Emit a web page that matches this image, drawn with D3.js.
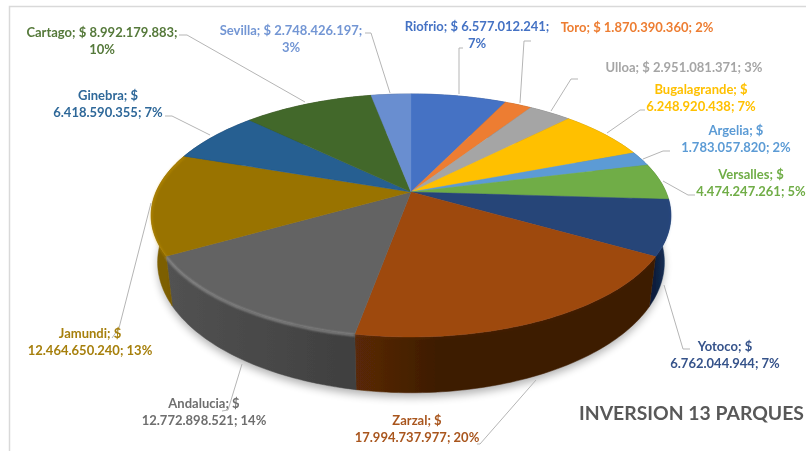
<!DOCTYPE html>
<html>
<head>
<meta charset="utf-8">
<script src="https://cdn.jsdelivr.net/npm/d3@7"></script>
<style>
  body { margin: 0; background: #fff; overflow: hidden; }
  svg { display: block; }
  text { font-family: Lato, "Open Sans", sans-serif; font-weight: 700; }
</style>
</head>
<body>
<div id="chart"></div>
<script>
// data
var names = ["Riofrio", "Toro", "Ulloa", "Bugalagrande", "Argelia", "Versalles", "Yotoco",
             "Zarzal", "Andalucia", "Jamundi", "Ginebra", "Cartago", "Sevilla"];
var values = [6577012241, 1870390360, 2951081371, 6248920438, 1783057820, 4474247261, 6762044944,
              17994737977, 12772898521, 12464650240, 6418590355, 8992179883, 2748426197];
var colors = ["#4472c4", "#ed7d31", "#a5a5a5", "#ffc000", "#5b9bd5", "#70ad47", "#264478",
              "#9e480e", "#636363", "#997300", "#255e91", "#43682b", "#698ed0"];
var sideFrom = ["#2f4f88", "#a5571f", "#737373", "#b28600", "#3f6c95", "#4e7931", "#1c3660",
                "#3d1c03", "#3f3f3f", "#7d5e00", "#1a4165", "#2e481d", "#49638f"];
var sideTo = ["#2f4f88", "#a5571f", "#737373", "#b28600", "#3f6c95", "#4e7931", "#0c1f3d",
              "#5a2907", "#525252", "#6f5400", "#1a4165", "#2e481d", "#49638f"];
// how far along the wall the first colour holds
var sideHold = [0, 0, 0, 0, 0, 0, 0, 0.72, 0, 0, 0, 0, 0];
var rimLight = [0, 0, 0, 0, 0, 0, 0.1, 0.05, 0.9, 0.3, 0, 0, 0];

// label text, one array per line of text
var line1 = ["Riofrio; $ 6.577.012.241;", "Toro; $ 1.870.390.360; 2%", "Ulloa; $ 2.951.081.371; 3%",
             "Bugalagrande; $", "Argelia; $", "Versalles; $", "Yotoco; $", "Zarzal; $", "Andalucia; $",
             "Jamundi; $", "Ginebra; $", "Cartago; $ 8.992.179.883;", "Sevilla; $ 2.748.426.197;"];
var line2 = ["7%", "", "", "6.248.920.438; 7%", "1.783.057.820; 2%", "4.474.247.261; 5%",
             "6.762.044.944; 7%", "17.994.737.977; 20%", "12.772.898.521; 14%", "12.464.650.240; 13%",
             "6.418.590.355; 7%", "10%", "3%"];
var labelColors = ["#4472c4", "#ed7d31", "#a5a5a5", "#ffc000", "#5b9bd5", "#70ad47", "#35528a",
                   "#a9561f", "#6e6e6e", "#a67f0a", "#2f6899", "#55793a", "#7396d4"];
// label centre x, first line middle y
var labelX = [477, 637, 684, 701, 736, 751, 725, 417, 204, 90, 108, 102, 291];
var labelY = [26, 27, 67, 89, 130, 174, 346, 420, 403, 333, 95, 32, 30];
// leader lines
var leaders = [
  [[463, 48], [459, 48], [459, 94]],
  [[531, 41], [524, 41], [520, 103]],
  [[578, 79], [571, 79], [551, 111]],
  [[645, 110], [640, 110], [607, 133]],
  [[670, 151], [663, 151], [643, 159]],
  [[695, 195], [688, 195], [663, 181]],
  [[690, 349], [683, 349], [664, 285]],
  [[477, 444], [480, 444], [536, 380]],
  [[222, 411], [228, 410], [242, 364]],
  [[112, 338], [119, 328], [151, 203]],
  [[165, 116], [172, 116], [210, 135]],
  [[179, 35], [187, 35], [305, 102]],
  [[365, 33], [371, 33], [390, 93]]
];

var width = 806, height = 451;

// the tilted pie is a circle seen through a perspective, its base a bit smaller
var cx = 411, cy = 192, rx = 255, ry = 117, persp = 0.193, depth = 45, taper = 0.025;

function project(angle, r, z) {
  var u = r * Math.sin(angle), v = -r * Math.cos(angle);
  var w = 1 - persp * v;
  return [cx + rx * (1 - taper * z) * u / w, cy + (ry * v + depth * z) / w];
}

function arcPoints(a0, a1, z) {
  var n = Math.max(2, Math.ceil((a1 - a0) / 0.02));
  return d3.range(n + 1).map(function(i) {
    return project(a0 + (a1 - a0) * i / n, 1, z);
  });
}

var line = d3.line();

var svg = d3.select("#chart")
  .append("svg")
    .attr("width", width)
    .attr("height", height);

var defs = svg.append("defs");
defs.append("filter").attr("id", "soft").append("feGaussianBlur").attr("stdDeviation", 0.5);
defs.append("filter").attr("id", "rimBlur").append("feGaussianBlur").attr("stdDeviation", 1);
defs.append("filter").attr("id", "shadow")
    .attr("x", "-10%").attr("y", "-10%").attr("width", "120%").attr("height", "120%")
  .append("feGaussianBlur").attr("stdDeviation", 4);

// chart frame, only top and left show
svg.append("path")
    .attr("d", "M9.5,451V6.5H806")
    .attr("fill", "none")
    .attr("stroke", "#d9d9d9")
    .attr("stroke-width", 1.5);

var root = svg.append("g").attr("filter", "url(#soft)");

var arcs = d3.pie().sort(null)(values);

// shadow under the pie
root.append("path")
    .attr("d", line(arcPoints(0, 2 * Math.PI, 1.08)) + "Z")
    .attr("fill", "#000")
    .attr("opacity", 0.3)
    .attr("filter", "url(#shadow)");

// side walls
arcs.forEach(function(d, i) {
  var grad = defs.append("linearGradient")
      .attr("id", "side" + i)
      .attr("gradientUnits", "userSpaceOnUse")
      .attr("x1", project(d.startAngle, 1, 0)[0]).attr("x2", project(d.endAngle, 1, 0)[0])
      .attr("y1", 0).attr("y2", 0);
  grad.append("stop").attr("offset", sideHold[i]).attr("stop-color", sideFrom[i]);
  grad.append("stop").attr("offset", 1).attr("stop-color", sideTo[i]);

  var pts = arcPoints(d.startAngle, d.endAngle, 0)
    .concat(arcPoints(d.startAngle, d.endAngle, 1).reverse());
  root.append("path")
      .attr("d", line(pts) + "Z")
      .attr("fill", "url(#side" + i + ")")
      .attr("stroke", "url(#side" + i + ")")
      .attr("stroke-width", 0.5);
});

// top faces
arcs.forEach(function(d, i) {
  var pts = [[cx, cy]].concat(arcPoints(d.startAngle, d.endAngle, 0));
  root.append("path")
      .attr("d", line(pts) + "Z")
      .attr("fill", colors[i])
      .attr("stroke", colors[i])
      .attr("stroke-width", 0.4);
});

// lit edge on the front of the top face
arcs.forEach(function(d, i) {
  if (!rimLight[i]) return;
  root.append("path")
      .attr("d", line(arcPoints(d.startAngle, d.endAngle, 0.02)))
      .attr("fill", "none")
      .attr("stroke", d3.color(colors[i]).brighter(1.2))
      .attr("stroke-width", 2)
      .attr("opacity", rimLight[i])
      .attr("filter", "url(#rimBlur)");
});

// leader lines
root.selectAll(".leader")
  .data(leaders)
  .enter()
  .append("path")
    .attr("d", function(d) { return line(d); })
    .attr("fill", "none")
    .attr("stroke", "#b5b5b5")
    .attr("stroke-width", 1);

// labels
names.forEach(function(name, i) {
  var t = root.append("text")
      .attr("text-anchor", "middle")
      .attr("font-size", 13)
      .attr("fill", labelColors[i]);
  t.append("tspan").attr("x", labelX[i]).attr("y", labelY[i] + 4.5).text(line1[i]);
  if (line2[i]) {
    t.append("tspan").attr("x", labelX[i]).attr("y", labelY[i] + 21.5).text(line2[i]);
  }
});

// title, sits tight against the right edge
root.append("text")
    .attr("x", 579)
    .attr("y", 420)
    .attr("font-size", 19.5)
    .attr("textLength", 225)
    .attr("lengthAdjust", "spacingAndGlyphs")
    .attr("fill", "#595959")
    .text("INVERSION 13 PARQUES");
</script>
</body>
</html>
